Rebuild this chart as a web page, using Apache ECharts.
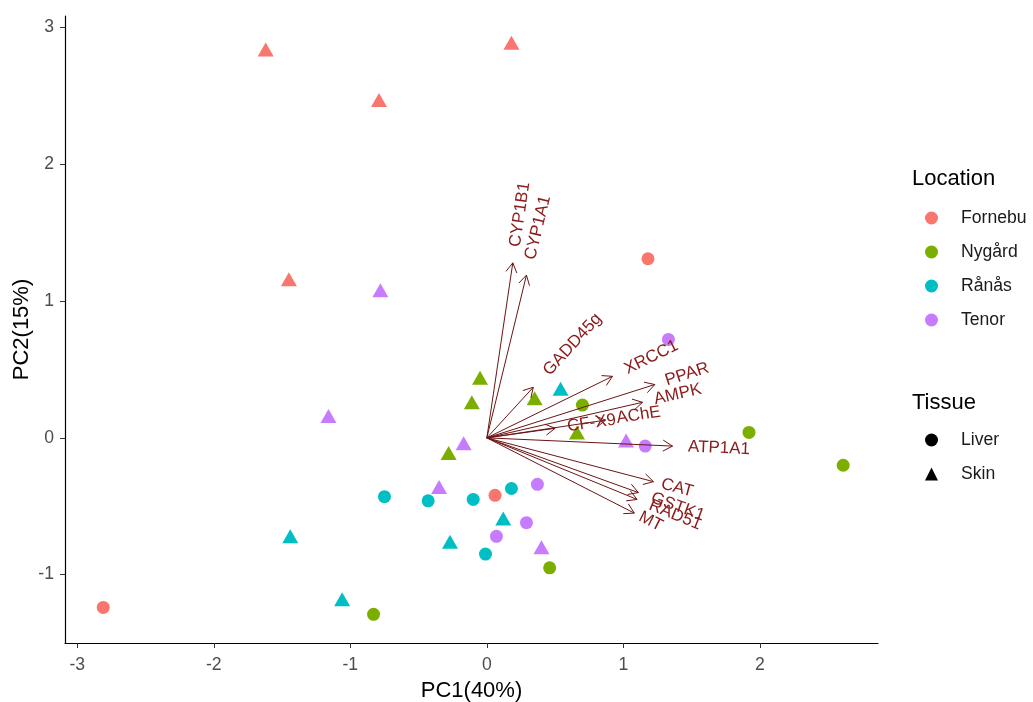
<!DOCTYPE html>
<html>
<head>
<meta charset="utf-8">
<title>PCA biplot</title>
<script src="https://cdn.jsdelivr.net/npm/echarts@6/dist/echarts.min.js"></script>
<style>
  html, body { margin: 0; padding: 0; background: #fff; }
  #main { width: 1033px; height: 702px; }
</style>
</head>
<body>
<div id="main"></div>
<script>
// sample scores [PC1, PC2], per location and tissue
var fornebuLiver = [[1.18, 1.31], [-2.81, -1.24], [0.06, -0.42]];
var fornebuSkin = [[-1.62, 2.84], [0.18, 2.89], [-0.79, 2.47], [-1.45, 1.16]];
var nygardLiver = [[1.92, 0.04], [2.61, -0.20], [0.46, -0.95], [-0.83, -1.29], [0.70, 0.24]];
var nygardSkin = [[-0.05, 0.44], [-0.11, 0.26], [-0.28, -0.11], [0.35, 0.29], [0.66, 0.04]];
var ranasLiver = [[-0.75, -0.43], [-0.43, -0.46], [-0.10, -0.45], [0.18, -0.37], [-0.01, -0.85]];
var ranasSkin = [[0.54, 0.36], [-1.44, -0.72], [-1.06, -1.18], [-0.27, -0.76], [0.12, -0.59]];
var tenorLiver = [[1.33, 0.72], [1.16, -0.06], [0.37, -0.34], [0.29, -0.62], [0.07, -0.72]];
var tenorSkin = [[1.02, -0.02], [0.40, -0.80], [-1.16, 0.16], [-0.17, -0.04], [-0.35, -0.36], [-0.78, 1.08]];

var locations = ['Fornebu', 'Nygård', 'Rånås', 'Tenor'];
var tissues = ['Liver', 'Skin'];

// loadings (arrow tips)
var varNames = ['CYP1B1', 'CYP1A1', 'GADD45g', 'XRCC1', 'PPAR', 'AMPK', 'AChE', 'CF-X9', 'ATP1A1', 'CAT', 'GSTK1', 'RAD51', 'MT'];
var varPC1 = [0.19, 0.29, 0.34, 0.92, 1.23, 1.14, 0.87, 0.50, 1.36, 1.22, 1.11, 1.10, 1.08];
var varPC2 = [1.28, 1.19, 0.37, 0.45, 0.39, 0.26, 0.13, 0.07, -0.06, -0.32, -0.40, -0.45, -0.55];

var xTicks = [-3, -2, -1, 0, 1, 2];
var yTicks = [-1, 0, 1, 2, 3];

var FONT = '"Liberation Sans", Arial, sans-serif';
var colors = ['#F8766D', '#7CAE00', '#00BFC4', '#C77CFF'];
var ARROW = '#6b1414';
var LABEL_SIZE = 17;

var chart = echarts.init(document.getElementById('main'));

var measureCtx = document.createElement('canvas').getContext('2d');
function textWidth(s) {
  measureCtx.font = LABEL_SIZE + 'px ' + FONT;
  return measureCtx.measureText(s).width;
}

function points(liver, skin) {
  var a = liver.map(function (p) {
    return { value: p, symbol: 'circle', symbolSize: 13 };
  });
  var b = skin.map(function (p) {
    return { value: p, symbol: 'triangle', symbolSize: [16, 14] };
  });
  return a.concat(b);
}

// arrow + open head + rotated label, like ggbiplot
function renderArrow(params, api) {
  var o = api.coord([0, 0]);
  var t = api.coord([api.value(0), api.value(1)]);
  var ang = Math.atan2(t[1] - o[1], t[0] - o[0]);
  var head = 11, spread = Math.PI / 6;
  var name = varNames[params.dataIndex];
  var w = textWidth(name);
  return {
    type: 'group',
    children: [
      {
        type: 'line',
        shape: { x1: o[0], y1: o[1], x2: t[0], y2: t[1] },
        style: { stroke: ARROW, lineWidth: 1 }
      },
      {
        type: 'polyline',
        shape: {
          points: [
            [t[0] - head * Math.cos(ang - spread), t[1] - head * Math.sin(ang - spread)],
            [t[0], t[1]],
            [t[0] - head * Math.cos(ang + spread), t[1] - head * Math.sin(ang + spread)]
          ]
        },
        style: { stroke: ARROW, lineWidth: 1, fill: 'none' }
      },
      {
        type: 'text',
        x: t[0],
        y: t[1],
        rotation: -ang,
        style: {
          text: name,
          x: 0.25 * w,
          y: 0,
          align: 'left',
          verticalAlign: 'middle',
          fill: '#8B1A1A',
          fontSize: LABEL_SIZE,
          fontFamily: FONT,
          fontStyle: 'normal'
        }
      }
    ]
  };
}

var arrowData = varNames.map(function (n, i) {
  return [varPC1[i], varPC2[i]];
});

var option = {
  backgroundColor: '#ffffff',
  animation: false,
  grid: { left: 65, right: 155, top: 16, bottom: 59, containLabel: false, outerBoundsMode: 'none' },
  xAxis: {
    type: 'value',
    min: -3.09,
    max: 2.865,
    name: 'PC1(40%)',
    nameLocation: 'middle',
    nameGap: 37,
    nameTextStyle: { fontSize: 22, color: '#000', fontFamily: FONT },
    splitLine: { show: false },
    axisLine: { onZero: false, lineStyle: { color: '#000', width: 1.2 } },
    axisTick: { length: 5, customValues: xTicks, lineStyle: { color: '#333' } },
    axisLabel: { customValues: xTicks, margin: 13, fontSize: 17.6, color: '#4D4D4D', fontFamily: FONT }
  },
  yAxis: {
    type: 'value',
    min: -1.5,
    max: 3.085,
    name: 'PC2(15%)',
    nameLocation: 'middle',
    nameGap: 32,
    nameMoveOverlap: false,
    nameTextStyle: { fontSize: 22, color: '#000', fontFamily: FONT },
    splitLine: { show: false },
    axisLine: { onZero: false, lineStyle: { color: '#000', width: 1.2 } },
    axisTick: { length: 5, customValues: yTicks, lineStyle: { color: '#333' } },
    axisLabel: { customValues: yTicks, margin: 11, fontSize: 17.6, color: '#4D4D4D', fontFamily: FONT }
  },
  legend: [
    {
      orient: 'vertical',
      left: 925,
      top: 209,
      padding: 0,
      itemWidth: 13,
      itemHeight: 13,
      itemGap: 16,
      selectedMode: false,
      data: locations.map(function (n) { return { name: n, icon: 'circle' }; }),
      textStyle: { fontSize: 17.6, lineHeight: 14, color: '#1a1a1a', fontFamily: FONT, padding: [0, 0, 0, 18] }
    },
    {
      orient: 'vertical',
      left: 925,
      top: 431,
      padding: 0,
      itemWidth: 13,
      itemHeight: 13,
      itemGap: 16,
      selectedMode: false,
      data: [{ name: tissues[0], icon: 'circle' }, { name: tissues[1], icon: 'triangle' }],
      textStyle: { fontSize: 17.6, lineHeight: 14, color: '#1a1a1a', fontFamily: FONT, padding: [0, 0, 0, 18] }
    }
  ],
  graphic: [
    { type: 'text', left: 912, top: 168, style: { text: 'Location', fontSize: 22, fontFamily: FONT, fill: '#000' } },
    { type: 'text', left: 912, top: 392, style: { text: 'Tissue', fontSize: 22, fontFamily: FONT, fill: '#000' } }
  ],
  series: [
    { name: locations[0], type: 'scatter', itemStyle: { color: colors[0], opacity: 1 }, data: points(fornebuLiver, fornebuSkin) },
    { name: locations[1], type: 'scatter', itemStyle: { color: colors[1], opacity: 1 }, data: points(nygardLiver, nygardSkin) },
    { name: locations[2], type: 'scatter', itemStyle: { color: colors[2], opacity: 1 }, data: points(ranasLiver, ranasSkin) },
    { name: locations[3], type: 'scatter', itemStyle: { color: colors[3], opacity: 1 }, data: points(tenorLiver, tenorSkin) },
    { name: tissues[0], type: 'scatter', symbol: 'circle', itemStyle: { color: '#000', opacity: 1 }, data: [] },
    { name: tissues[1], type: 'scatter', symbol: 'triangle', itemStyle: { color: '#000', opacity: 1 }, data: [] },
    {
      type: 'custom',
      z: 5,
      silent: true,
      clip: false,
      renderItem: renderArrow,
      data: arrowData
    }
  ]
};

chart.setOption(option);
</script>
</body>
</html>
